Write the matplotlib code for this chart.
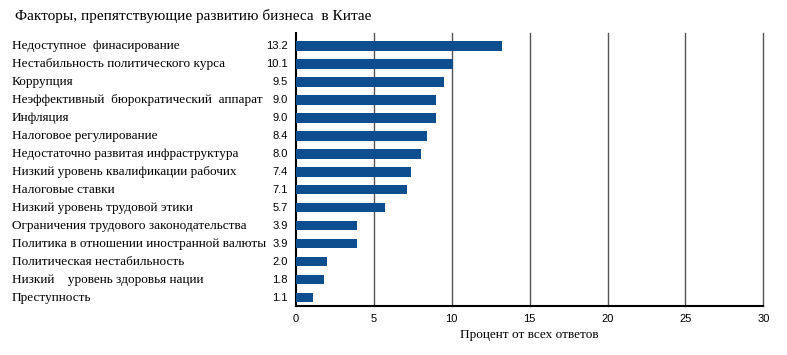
import matplotlib.pyplot as plt

factors = [
    "Недоступное  финасирование",
    "Нестабильность политического курса",
    "Коррупция",
    "Неэффективный  бюрократический  аппарат",
    "Инфляция",
    "Налоговое регулирование",
    "Недостаточно развитая инфраструктура",
    "Низкий уровень квалификации рабочих",
    "Налоговые ставки",
    "Низкий уровень трудовой этики",
    "Ограничения трудового законодательства",
    "Политика в отношении иностранной валюты",
    "Политическая нестабильность",
    "Низкий    уровень здоровья нации",
    "Преступность",
]
values = [13.2, 10.1, 9.5, 9.0, 9.0, 8.4, 8.0, 7.4, 7.1, 5.7, 3.9, 3.9, 2.0, 1.8, 1.1]
xticks = [0, 5, 10, 15, 20, 25, 30]

serif = ["Liberation Serif", "DejaVu Serif"]
sans = ["Liberation Sans", "DejaVu Sans"]

fig = plt.figure(figsize=(7.87, 3.55), dpi=100)
ax = fig.add_axes([0.376, 0.138, 0.594, 0.769])

n = len(values)
ypos = [n - 1 - i for i in range(n)]
ax.barh(ypos, values, height=0.52, color="#0d4e8f", zorder=3)

ax.set_xlim(0, 30)
ax.set_ylim(-0.47, n - 1 + 0.73)
ax.set_xticks(xticks)
ax.set_xticklabels([str(t) for t in xticks], family=sans, fontsize=8)
ax.set_yticks([])
ax.tick_params(axis="x", length=0, pad=6)

for t in xticks[1:]:
    ax.axvline(t, color="#555555", lw=1, zorder=1, clip_on=False)

for s in ["top", "right"]:
    ax.spines[s].set_visible(False)
ax.spines["left"].set_linewidth(1.5)
ax.spines["bottom"].set_linewidth(1.5)

for y, name, v in zip(ypos, factors, values):
    ax.text(-0.608, y, name, transform=ax.get_yaxis_transform(), ha="left", va="center",
            family=serif, fontsize=9.5)
    ax.text(-0.017, y, f"{v:.1f}", transform=ax.get_yaxis_transform(), ha="right", va="center",
            family=sans, fontsize=8)

ax.set_xlabel("Процент от всех ответов", family=serif, fontsize=9.5, labelpad=3)
fig.text(0.019, 0.955, "Факторы, препятствующие развитию бизнеса  в Китае",
         family=serif, fontsize=11, ha="left", va="center")

fig.savefig("out.png", dpi=100)
